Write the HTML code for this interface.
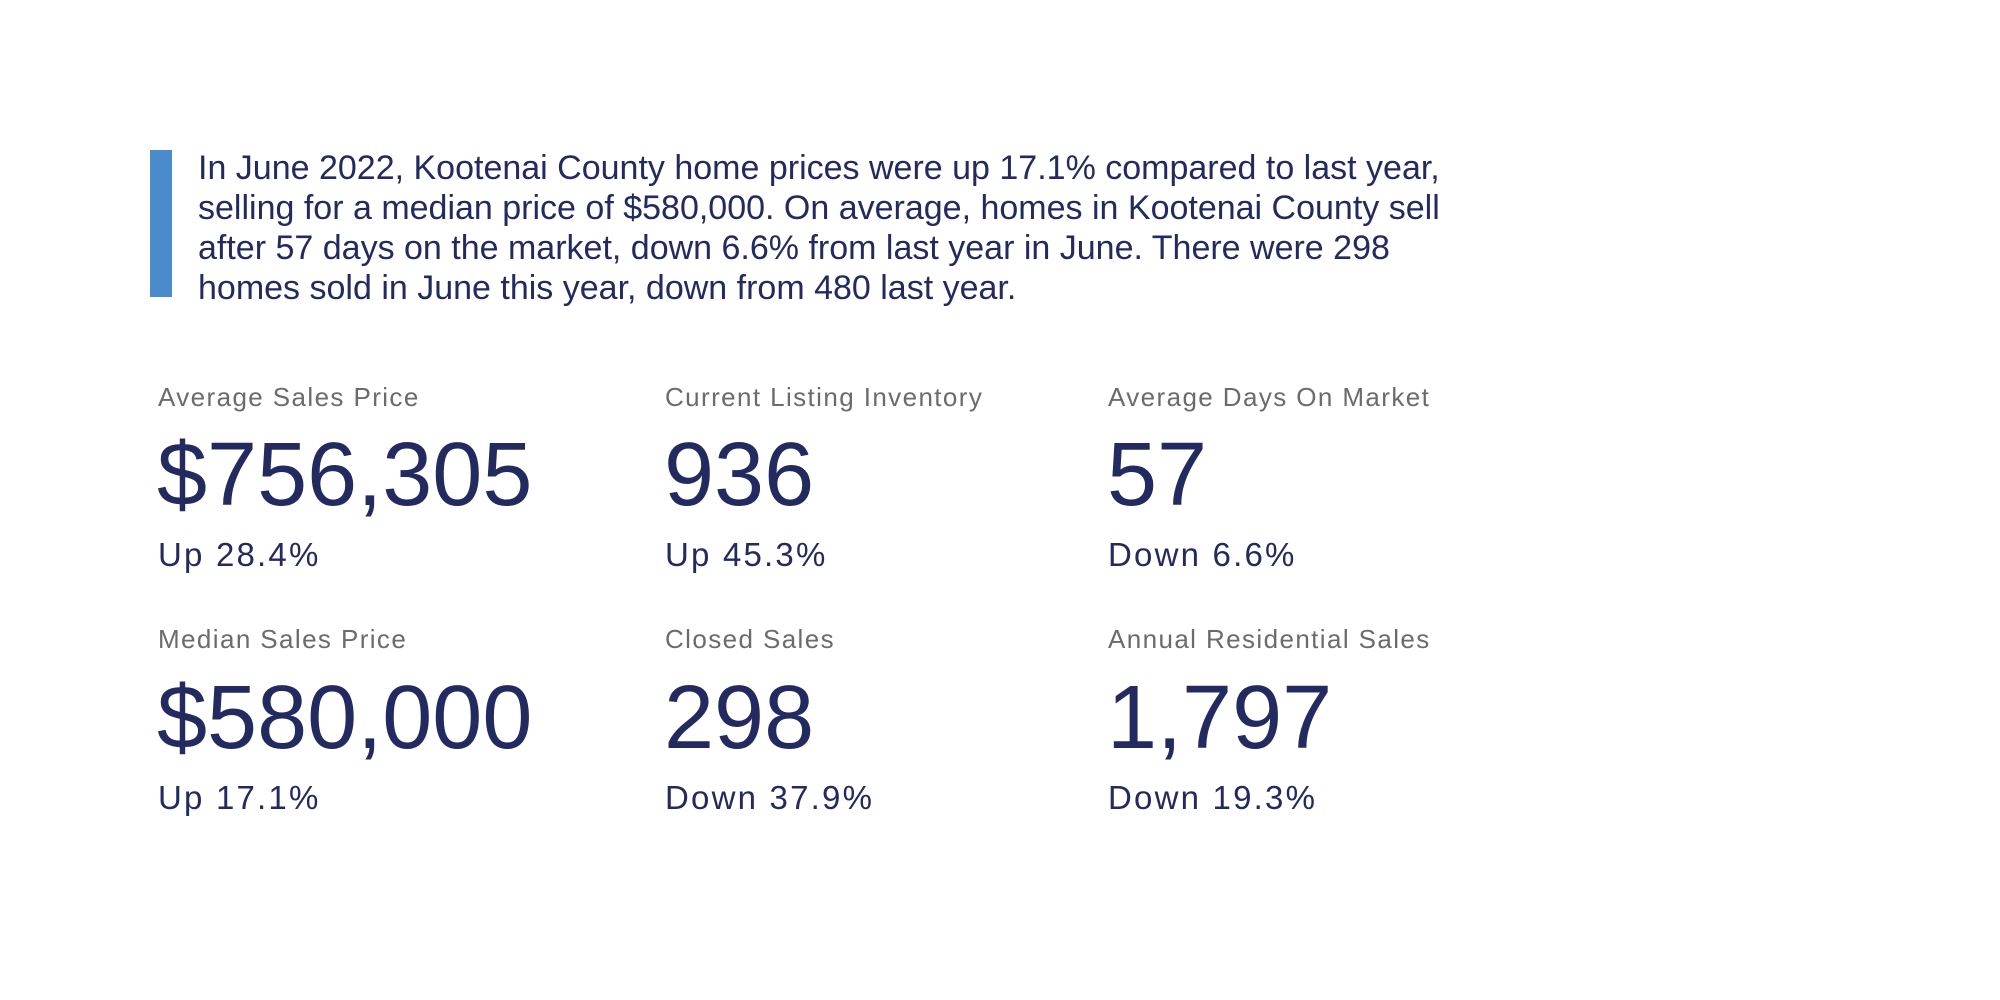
<!DOCTYPE html>
<html><head><meta charset="utf-8"><style>
body{margin:0;width:2000px;height:1000px;background:#fff;position:relative;overflow:hidden;font-family:"Liberation Sans",Arial,sans-serif;}
.bar{position:absolute;left:150px;top:150px;width:22px;height:147px;background:#4a8ccb;}
.p{position:absolute;left:198px;top:148px;font-size:34px;line-height:40px;color:#222a5f;white-space:nowrap;}
.c{position:absolute;white-space:nowrap;}
.l{font-size:26px;color:#6b6b6b;letter-spacing:1.4px;}
.n{font-size:90px;color:#222a5f;letter-spacing:0;line-height:1;}
.s{font-size:33px;color:#222a5f;letter-spacing:2.2px;}
</style></head><body>
<div class="bar"></div>
<div class="p">In June 2022, Kootenai County home prices were up 17.1% compared to last year,<br>selling for a median price of $580,000. On average, homes in Kootenai County sell<br>after 57 days on the market, down 6.6% from last year in June. There were 298<br>homes sold in June this year, down from 480 last year.</div>

<div class="c l" style="left:158px;top:382px">Average Sales Price</div>
<div class="c n" style="left:157px;top:430px">$756,305</div>
<div class="c s" style="left:158px;top:536px">Up 28.4%</div>

<div class="c l" style="left:665px;top:382px">Current Listing Inventory</div>
<div class="c n" style="left:664px;top:430px">936</div>
<div class="c s" style="left:665px;top:536px">Up 45.3%</div>

<div class="c l" style="left:1108px;top:382px">Average Days On Market</div>
<div class="c n" style="left:1107px;top:430px">57</div>
<div class="c s" style="left:1108px;top:536px">Down 6.6%</div>

<div class="c l" style="left:158px;top:624px">Median Sales Price</div>
<div class="c n" style="left:157px;top:673px">$580,000</div>
<div class="c s" style="left:158px;top:779px">Up 17.1%</div>

<div class="c l" style="left:665px;top:624px">Closed Sales</div>
<div class="c n" style="left:664px;top:673px">298</div>
<div class="c s" style="left:665px;top:779px">Down 37.9%</div>

<div class="c l" style="left:1108px;top:624px">Annual Residential Sales</div>
<div class="c n" style="left:1107px;top:673px">1,797</div>
<div class="c s" style="left:1108px;top:779px">Down 19.3%</div>
</body></html>
